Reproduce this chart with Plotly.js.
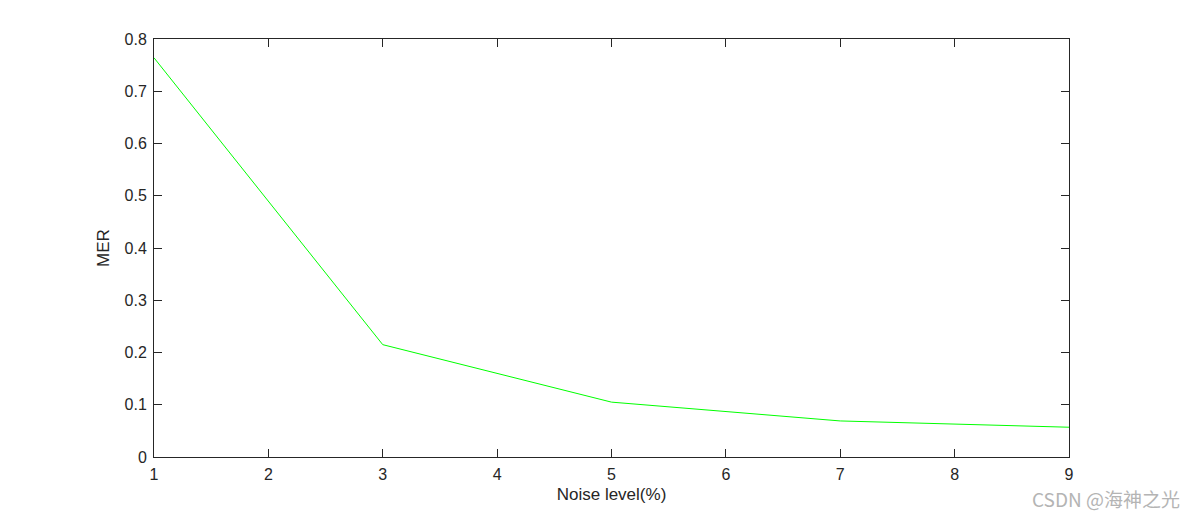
<!DOCTYPE html>
<html>
<head>
<meta charset="utf-8">
<script src="https://cdn.plot.ly/plotly-3.0.1.min.js"></script>
<style>
html,body{margin:0;padding:0;background:#fff;}
#chart{width:1182px;height:514px;}
</style>
</head>
<body>
<div id="chart"></div>
<script>
const noiseLevel = [1, 3, 5, 7, 9];
const merValues = [0.764, 0.215, 0.105, 0.069, 0.057];
const xTicks = [1, 2, 3, 4, 5, 6, 7, 8, 9];
const yTicks = [0, 0.1, 0.2, 0.3, 0.4, 0.5, 0.6, 0.7, 0.8];

const trace = {
  x: noiseLevel,
  y: merValues,
  type: 'scatter',
  mode: 'lines',
  line: {color: '#00ff00', width: 1},
  showlegend: false,
  hoverinfo: 'x+y'
};

const axisCommon = {
  showline: true,
  linecolor: '#262626',
  linewidth: 1,
  mirror: 'ticks',
  ticks: 'inside',
  ticklen: 8,
  tickwidth: 1,
  tickcolor: '#262626',
  showgrid: false,
  zeroline: false,
  tickfont: {family: 'Liberation Sans, Arial, sans-serif', size: 16, color: '#262626'}
};

const layout = {
  width: 1182,
  height: 514,
  margin: {l: 154, r: 113, t: 39, b: 57},
  paper_bgcolor: '#ffffff',
  plot_bgcolor: '#ffffff',
  xaxis: Object.assign({}, axisCommon, {
    range: [1, 9],
    tickvals: xTicks,
    ticktext: xTicks.map(String),
    ticklabelstandoff: 3,
    title: {text: 'Noise level(%)', font: {family: 'Liberation Sans, Arial, sans-serif', size: 17, color: '#262626'}, standoff: 5}
  }),
  yaxis: Object.assign({}, axisCommon, {
    range: [0, 0.8],
    tickvals: yTicks,
    ticktext: yTicks.map(v => String(v)),
    ticklabelstandoff: 3,
    title: {text: 'MER', font: {family: 'Liberation Sans, Arial, sans-serif', size: 17, color: '#262626'}, standoff: 10}
  }),
  annotations: [{
    text: 'CSDN @海神之光',
    xref: 'paper', yref: 'paper',
    x: 1.122, y: -0.135,
    xanchor: 'right', yanchor: 'bottom',
    showarrow: false,
    borderpad: 0,
    font: {family: 'Noto Sans CJK SC, Liberation Sans, sans-serif', size: 19, color: '#b4b4b4'}
  }]
};

Plotly.newPlot('chart', [trace], layout, {displayModeBar: false, staticPlot: true});
</script>
</body>
</html>
